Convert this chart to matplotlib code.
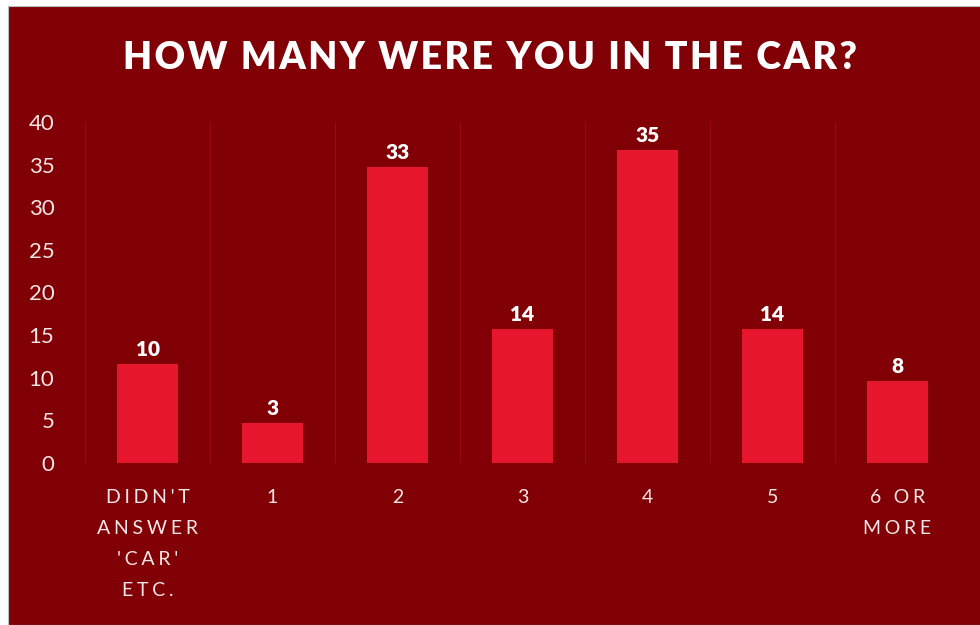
import matplotlib.pyplot as plt
from matplotlib.patches import Rectangle

categories = ["DIDN'T\nANSWER\n'CAR'\nETC.", "1", "2", "3", "4", "5", "6 OR\nMORE"]
bar_heights = [11.6, 4.7, 34.7, 15.7, 36.7, 15.7, 9.6]
value_labels = [10, 3, 33, 14, 35, 14, 8]
yticks = [0, 5, 10, 15, 20, 25, 30, 35, 40]

BG = "#800005"
BAR = "#e6172d"
GRID = "#990a14"
TXT = "#f4e6e6"
FONT = ["Lato", "DejaVu Sans"]


def spaced(s, sep="\u2009"):
    # fake letter spacing, line by line
    return "\n".join(sep.join(line) for line in s.split("\n"))


fig = plt.figure(figsize=(9.8, 6.25), dpi=100, facecolor="white")
fig.patches.append(Rectangle((8 / 980, 0), 1, 1 - 6 / 625, transform=fig.transFigure,
                             facecolor=BG, edgecolor="#bbbbbb", linewidth=0.8, zorder=-5))

ax = fig.add_axes([85 / 980, 162 / 625, 875 / 980, 341 / 625])
ax.set_facecolor("none")
x = range(len(categories))
ax.bar(x, bar_heights, width=0.49, color=BAR, zorder=3)

for xi, h, v in zip(x, bar_heights, value_labels):
    ax.text(xi, h + 0.55, str(v), ha="center", va="bottom", color="white",
            fontsize=15, fontweight="heavy", family=FONT, zorder=4)

for b in [i - 0.5 for i in range(len(categories) + 1)]:
    ax.plot([b, b], [0, 40], color=GRID, linewidth=0.8, zorder=1)
ax.axhline(0, color=GRID, linewidth=0.8, zorder=1)

ax.set_xlim(-0.5, len(categories) - 0.5)
ax.set_ylim(0, 40)
ax.set_xticks([])
ax.set_yticks(yticks)
ax.set_yticklabels([str(t) for t in yticks], color=TXT, fontsize=16, family=FONT)
ax.tick_params(axis="y", length=0, pad=22)
for s in ax.spines.values():
    s.set_visible(False)

for xi, lab in zip(x, categories):
    ax.text(xi, -0.075, spaced(lab, "\u2009\u200a"), transform=ax.get_xaxis_transform(),
            ha="center", va="top", color=TXT, fontsize=14, family=FONT,
            linespacing=2.0, multialignment="center")

fig.text(0.5, 1 - 58 / 625, spaced("HOW MANY WERE YOU IN THE CAR?", "\u200a"),
         ha="center", va="center", color="white", fontsize=27, fontweight="heavy",
         family=FONT)

fig.savefig("out.png", dpi=100, facecolor=fig.get_facecolor())
